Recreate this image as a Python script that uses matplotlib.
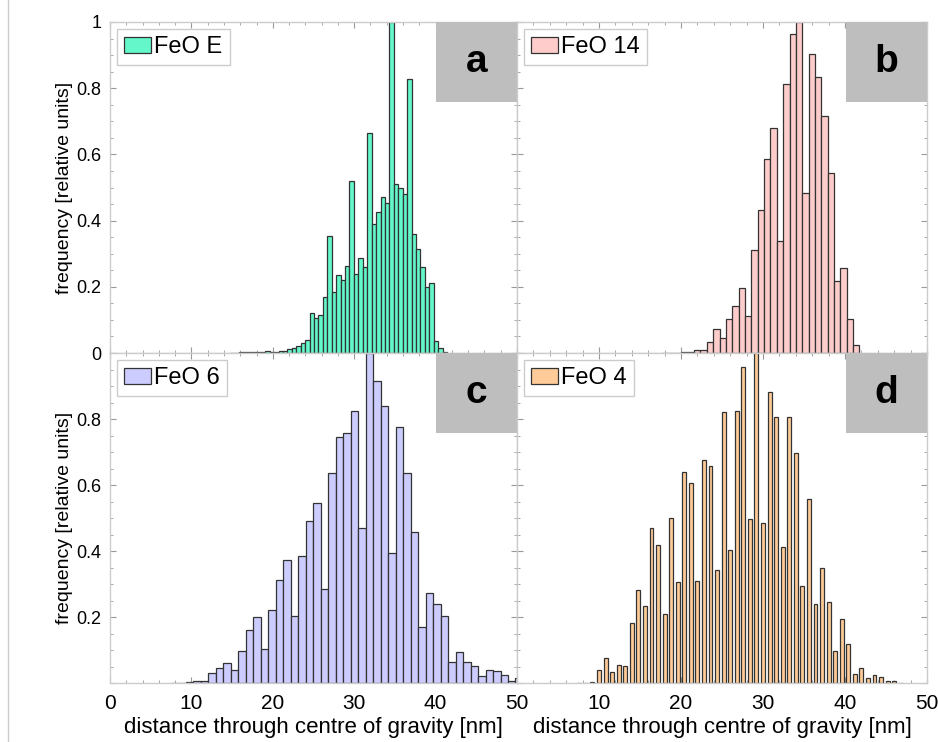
import matplotlib.pyplot as plt
from matplotlib.patches import Rectangle
from matplotlib.lines import Line2D
from matplotlib.ticker import MultipleLocator
import numpy as np

plt.rcParams['font.family'] = ['Liberation Sans', 'DejaVu Sans']

# ── histogram data: first bin centre [nm], bin spacing [nm], relative counts ──
feoE_start, feoE_step = 14.98, 0.545
feoE_freq = [0.001, 0.001, 0.002, 0.002, 0.002, 0.003, 0.003, 0.004, 0.005,
             0.003, 0.004, 0.005, 0.007, 0.011, 0.014, 0.020, 0.030, 0.040,
             0.120, 0.107, 0.115, 0.170, 0.354, 0.185, 0.236, 0.220, 0.264,
             0.520, 0.240, 0.286, 0.260, 0.664, 0.390, 0.425, 0.470, 0.454,
             1.000, 0.510, 0.497, 0.480, 0.827, 0.360, 0.314, 0.259, 0.200,
             0.210, 0.037, 0.014, 0.004]

feo14_start, feo14_step = 18.1, 0.776
feo14_freq = [0.001, 0.001, 0.001, 0.002, 0.003, 0.008, 0.009, 0.034, 0.073,
              0.044, 0.104, 0.142, 0.197, 0.112, 0.311, 0.432, 0.586, 0.681,
              0.339, 0.812, 0.964, 1.000, 0.484, 0.903, 0.835, 0.716, 0.545,
              0.219, 0.256, 0.102, 0.024]

feo6_start, feo6_step = 7.91, 0.921
feo6_freq = [0.001, 0.001, 0.002, 0.007, 0.007, 0.031, 0.044, 0.060, 0.040,
             0.098, 0.160, 0.200, 0.102, 0.221, 0.312, 0.373, 0.204, 0.385,
             0.492, 0.546, 0.284, 0.637, 0.744, 0.759, 0.824, 0.469, 1.000,
             0.916, 0.840, 0.393, 0.775, 0.635, 0.459, 0.169, 0.272, 0.239,
             0.204, 0.065, 0.095, 0.063, 0.053, 0.022, 0.039, 0.036, 0.024,
             0.006, 0.014]

feo4_start, feo4_step = 7.6, 0.80
feo4_freq = [0.001, 0.001, 0.002, 0.039, 0.075, 0.033, 0.055, 0.052, 0.183,
             0.282, 0.233, 0.469, 0.418, 0.208, 0.499, 0.307, 0.638, 0.607,
             0.310, 0.676, 0.659, 0.342, 0.822, 0.403, 0.824, 0.957, 0.496,
             1.000, 0.484, 0.883, 0.805, 0.413, 0.805, 0.698, 0.294, 0.557,
             0.239, 0.350, 0.244, 0.098, 0.193, 0.118, 0.027, 0.044, 0.014,
             0.024, 0.019, 0.006, 0.005, 0.001]

xtick_vals = [0, 10, 20, 30, 40, 50]
ytick_vals = [0, 0.2, 0.4, 0.6, 0.8, 1]
ytick_text = ['0', '0.2', '0.4', '0.6', '0.8', '1']

W, H = 938, 742
fig = plt.figure(figsize=(W / 100, H / 100), dpi=100)


def px_axes(x0, y0, x1, y1):
    return fig.add_axes([x0 / W, 1 - y1 / H, (x1 - x0) / W, (y1 - y0) / H])


def draw_panel(ax, start, step, freq, colour, name, letter, bar_frac=1.0):
    centres = start + step * np.arange(len(freq))
    ax.bar(centres, freq, width=step * bar_frac, color=colour,
           edgecolor='#333333', linewidth=0.9, label=name, zorder=2)
    ax.set_xlim(0, 50)
    ax.set_ylim(0, 1)

    ax.xaxis.set_major_locator(MultipleLocator(10))
    ax.xaxis.set_minor_locator(MultipleLocator(2))
    ax.yaxis.set_major_locator(MultipleLocator(0.2))
    ax.yaxis.set_minor_locator(MultipleLocator(0.05))
    ax.tick_params(which='both', direction='in', top=True, right=True,
                   color='#999999')
    ax.tick_params(which='major', length=4)
    ax.tick_params(which='minor', length=2)
    ax.tick_params(axis='x', labelsize=15, pad=8)
    ax.tick_params(axis='y', labelsize=13, pad=6)
    for s in ax.spines.values():
        s.set_color('#cccccc')
        s.set_linewidth(1)

    # grey corner box with panel letter
    bb = ax.get_window_extent()
    bw, bh = 81 / bb.width, 80 / bb.height
    ax.add_patch(Rectangle((1 - bw, 1 - bh), bw, bh, transform=ax.transAxes,
                           facecolor='#bebebe', edgecolor='none', zorder=3))
    ax.text(1 - bw / 2, 1 - bh / 2, letter, transform=ax.transAxes,
            ha='center', va='center', fontsize=28, fontweight='bold', zorder=4)

    leg = ax.legend(loc='upper left', fontsize=17, frameon=True, fancybox=False,
                    framealpha=1, edgecolor='#cccccc', handlelength=1.13,
                    handleheight=0.68, handletextpad=0.15, borderpad=0.3,
                    borderaxespad=0.3)
    leg.get_frame().set_linewidth(1)


ax_a = px_axes(110, 22, 517, 353)
ax_b = px_axes(517, 22, 927, 353)
ax_c = px_axes(110, 353, 517, 683)
ax_d = px_axes(517, 353, 927, 683)

draw_panel(ax_a, feoE_start, feoE_step, feoE_freq, '#63F7CA', 'FeO E', 'a')
draw_panel(ax_b, feo14_start, feo14_step, feo14_freq, '#FFCCCC', 'FeO 14', 'b')
draw_panel(ax_c, feo6_start, feo6_step, feo6_freq, '#CCCCFF', 'FeO 6', 'c')
draw_panel(ax_d, feo4_start, feo4_step, feo4_freq, '#FFCC99', 'FeO 4', 'd',
           bar_frac=0.6)

# tick labels only on the outer edges
for ax in (ax_a, ax_b, ax_c, ax_d):
    ax.set_xticks(xtick_vals)
    ax.set_yticks(ytick_vals)
ax_a.set_xticklabels([])
ax_b.set_xticklabels([])
ax_b.set_yticklabels([])
ax_d.set_yticklabels([])
ax_a.set_yticklabels(ytick_text)
ax_c.set_yticklabels([''] + ytick_text[1:-1] + [''])
ax_c.set_xticklabels([str(v) for v in xtick_vals])
ax_d.set_xticklabels([''] + [str(v) for v in xtick_vals[1:]])

for ax in (ax_a, ax_c):
    ax.set_ylabel('frequency [relative units]', fontsize=14)
    ax.yaxis.set_label_coords(-37 / 407, 0.5)
for ax in (ax_c, ax_d):
    ax.set_xlabel('distance through centre of gravity [nm]', fontsize=16,
                  labelpad=3)

fig.add_artist(Line2D([8 / W, 8 / W], [0, 1], color='#cccccc', linewidth=1))

fig.savefig('out.png', dpi=100)
